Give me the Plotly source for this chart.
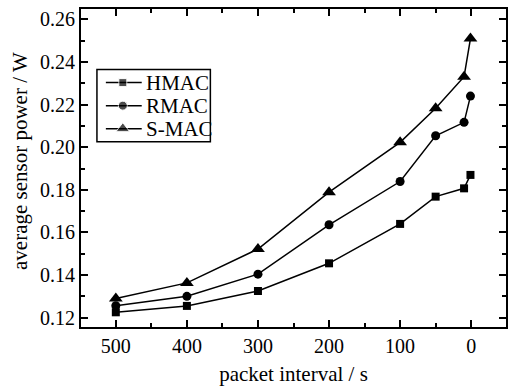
import plotly.graph_objects as go

x_vals = [500, 400, 300, 200, 100, 50, 10, 1]
hmac = [0.1225, 0.1255, 0.1325, 0.1455, 0.1640, 0.1768, 0.1807, 0.1870]
rmac = [0.1256, 0.1300, 0.1404, 0.1636, 0.1839, 0.2054, 0.2117, 0.2240]
smac = [0.1290, 0.1363, 0.1522, 0.1789, 0.2023, 0.2183, 0.2331, 0.2510]
series_names = ["HMAC", "RMAC", "S-MAC"]
x_ticks = [500, 400, 300, 200, 100, 0]
y_ticks = [0.12, 0.14, 0.16, 0.18, 0.20, 0.22, 0.24, 0.26]

font = dict(family="Liberation Serif, Times New Roman, serif", size=20, color="black")
title_font = dict(family="Liberation Serif, Times New Roman, serif", size=21, color="black")
styles = [("square", 8), ("circle", 9), ("triangle-up", 12)]

fig = go.Figure()
for name, ys, (sym, sz) in zip(series_names, [hmac, rmac, smac], styles):
    fig.add_trace(go.Scatter(x=x_vals, y=ys, name=name, mode="lines+markers", showlegend=False,
                             line=dict(color="black", width=1.5),
                             marker=dict(symbol=sym, size=sz, color="black")))

# manual legend (layout positions in the plot-area fraction space)
leg_rows = [0.7685, 0.6961, 0.6236]
for name, (sym, sz), ly in zip(series_names, styles, leg_rows):
    fig.add_trace(go.Scatter(x=[0.0585, 0.0984, 0.1429], y=[ly, ly, ly], mode="lines+markers",
                             xaxis="x2", yaxis="y2", showlegend=False, hoverinfo="skip",
                             line=dict(color="black", width=1.5),
                             marker=dict(symbol=sym, size=[0, sz, 0], color="black")))
    fig.add_annotation(x=0.1475, y=ly, xref="paper", yref="paper", text=name, showarrow=False,
                       xanchor="left", yanchor="middle", font=title_font)
fig.add_shape(type="rect", xref="paper", yref="paper", x0=0.0375, x1=0.3044, y0=0.5827, y1=0.8094,
              line=dict(color="black", width=1.5), fillcolor="white", layer="below")

# y-axis title as annotation (slightly above plot-area centre, as in the reference)
fig.add_annotation(x=-0.1452, y=0.523, xref="paper", yref="paper", text="average sensor power / W",
                   textangle=-90, showarrow=False, xanchor="center", yanchor="middle", font=title_font)

axis_common = dict(showline=True, linecolor="black", linewidth=2, mirror="ticks",
                   ticks="inside", ticklen=7, tickwidth=1.5, tickcolor="black",
                   showgrid=False, zeroline=False, tickfont=font)
fig.update_xaxes(range=[549, -49], tickvals=x_ticks, ticktext=[str(v) for v in x_ticks],
                 title=dict(text="packet interval / s", font=title_font, standoff=10),
                 minor=dict(ticks="inside", ticklen=4, tickwidth=1.5, tickcolor="black", dtick=50, tick0=0),
                 **axis_common)
fig.update_yaxes(range=[0.1156, 0.2649], tickvals=y_ticks, ticktext=[f"{v:.2f}" for v in y_ticks],
                 minor=dict(ticks="inside", ticklen=4, tickwidth=1.5, tickcolor="black", dtick=0.01, tick0=0.12),
                 **axis_common)
fig.update_layout(width=509, height=388, margin=dict(l=81, r=1, t=9, b=61),
                  plot_bgcolor="white", paper_bgcolor="white", font=font, showlegend=False,
                  xaxis2=dict(overlaying="x", range=[0, 1], visible=False, fixedrange=True),
                  yaxis2=dict(overlaying="y", range=[0, 1], visible=False, fixedrange=True))
fig.write_html("out.html", config={"displayModeBar": False},
               post_script="document.body.style.margin='0';document.body.style.overflow='hidden';")
